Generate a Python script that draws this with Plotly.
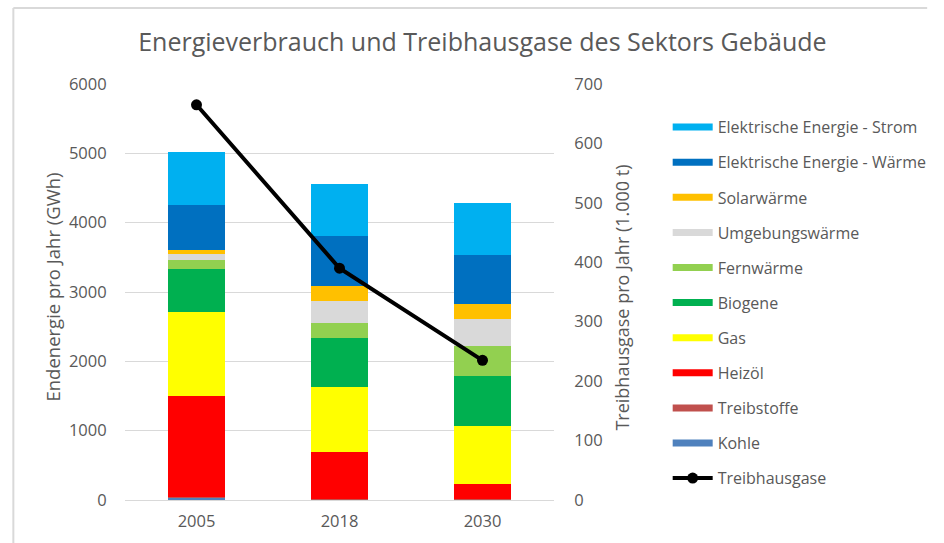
import plotly.graph_objects as go

years = ["2005", "2018", "2030"]

kohle = [30, 10, 5]
treibstoffe = [20, 10, 5]
heizoel = [1455, 668, 221]
gas = [1204, 947, 837]
biogene = [621, 699, 722]
fernwaerme = [134, 217, 433]
umgebung = [82, 321, 390]
solar = [62, 217, 212]
ee_waerme = [640, 722, 711]
ee_strom = [771, 746, 747]
treibhausgase = [665, 390, 235]

series = [
    ("Kohle", kohle, "#4F81BD"),
    ("Treibstoffe", treibstoffe, "#C0504D"),
    ("Heizöl", heizoel, "#FF0000"),
    ("Gas", gas, "#FFFF00"),
    ("Biogene", biogene, "#00B050"),
    ("Fernwärme", fernwaerme, "#92D050"),
    ("Umgebungswärme", umgebung, "#D9D9D9"),
    ("Solarwärme", solar, "#FFC000"),
    ("Elektrische Energie - Wärme", ee_waerme, "#0070C0"),
    ("Elektrische Energie - Strom", ee_strom, "#00B0F0"),
]

FONT = "Open Sans"
GREY = "#595959"

fig = go.Figure()
n = len(series)
for i, (name, vals, col) in enumerate(series):
    fig.add_trace(go.Bar(x=years, y=vals, name=name, marker=dict(color=col, line=dict(width=0)),
                         showlegend=False, yaxis="y"))
    # legend entry (wide swatch like the original)
    fig.add_trace(go.Scatter(x=[None], y=[None], mode="lines", name=name,
                             line=dict(color=col, width=7), legendgroup=name,
                             legendrank=n - i, yaxis="y"))

fig.add_trace(go.Scatter(x=years, y=treibhausgase, name="Treibhausgase", mode="lines+markers",
                         line=dict(color="black", width=4), marker=dict(size=11, color="black"),
                         yaxis="y2", legendgroup="thg", legendrank=20))

fig.update_layout(
    width=944, height=543,
    margin=dict(l=125, r=381, t=84, b=43),
    paper_bgcolor="white", plot_bgcolor="white",
    barmode="stack", bargap=0.6,
    font=dict(family=FONT, color=GREY, size=16),
    title=dict(text="Energieverbrauch und Treibhausgase des Sektors Gebäude",
               x=0.511, xref="container", y=1 - 42 / 543, yref="container",
               xanchor="center", yanchor="middle",
               font=dict(family=FONT, size=25, color=GREY)),
    xaxis=dict(showgrid=False, showline=False, zeroline=False, tickfont=dict(size=16.5, color=GREY),
               ticks="outside", ticklen=6, tickcolor="rgba(0,0,0,0)"),
    yaxis=dict(range=[0, 6000], dtick=1000, showgrid=True, gridcolor="#D9D9D9", gridwidth=1,
               zeroline=True, zerolinecolor="#D9D9D9", zerolinewidth=1, showline=False,
               ticks="outside", ticklen=14, tickcolor="rgba(0,0,0,0)",
               tickfont=dict(size=16.5, color=GREY)),
    yaxis2=dict(range=[0, 700], dtick=100, overlaying="y", side="right", showgrid=False,
                zeroline=False, showline=False, ticks="outside", ticklen=16,
                tickcolor="rgba(0,0,0,0)", tickfont=dict(size=16.5, color=GREY)),
    legend=dict(x=1.265, xanchor="left", y=0.937, yanchor="top", traceorder="grouped",
                tracegroupgap=11.3, font=dict(size=16, color=GREY), itemwidth=40,
                bgcolor="rgba(0,0,0,0)"),
    annotations=[
        dict(text="Endenergie pro Jahr (GWh)", x=(50 - 125) / 438, y=(500 - 287) / 416,
             xref="paper", yref="paper", textangle=-90, showarrow=False,
             xanchor="center", yanchor="middle", font=dict(size=18.5, color=GREY)),
        dict(text="Treibhausgase pro Jahr (1.000 t)", x=(632 - 125) / 438, y=(500 - 298) / 416,
             xref="paper", yref="paper", textangle=-90, showarrow=False,
             xanchor="center", yanchor="middle", font=dict(size=18, color=GREY)),
    ],
    shapes=[
        dict(type="line", xref="paper", yref="paper", x0=(11 - 125) / 438, x1=(944 - 125) / 438,
             y0=(500 - 8) / 416, y1=(500 - 8) / 416, line=dict(color="#D9D9D9", width=2)),
        dict(type="line", xref="paper", yref="paper", x0=(11 - 125) / 438, x1=(11 - 125) / 438,
             y0=(500 - 8) / 416, y1=(500 - 543) / 416, line=dict(color="#D9D9D9", width=2)),
    ],
)

fig.write_html("out.html", config={"displayModeBar": False},
               post_script="document.body.style.margin='0';"
                           "document.body.style.overflow='hidden';"
                           "document.documentElement.style.overflow='hidden';")
